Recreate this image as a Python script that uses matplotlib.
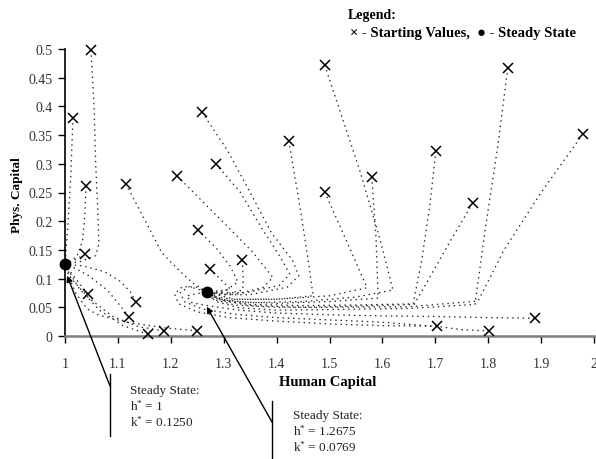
import matplotlib
matplotlib.use("Agg")
import matplotlib.pyplot as plt

plt.rcParams['font.family'] = ['Liberation Serif', 'DejaVu Sans']
plt.rcParams['mathtext.fontset'] = 'custom'
plt.rcParams['mathtext.rm'] = 'Liberation Serif'
plt.rcParams['mathtext.it'] = 'Liberation Serif:italic'
plt.rcParams['mathtext.bf'] = 'Liberation Serif:bold'

# ---------------- data (human capital h, physical capital k) ----------------
steady_h = [1.0, 1.2675]
steady_k = [0.1250, 0.0769]

# trajectories converging to steady state h*=1
traj_a1 = [(1.049, 0.498), (1.055, 0.40), (1.058, 0.30), (1.062, 0.22), (1.064, 0.160), (1.058, 0.140), (1.030, 0.130), (1.0, 0.125)]
traj_a2 = [(1.015, 0.380), (1.011, 0.280), (1.006, 0.200), (1.002, 0.150), (1.0, 0.125)]
traj_a3 = [(1.040, 0.261), (1.037, 0.205), (1.033, 0.165), (1.022, 0.138), (1.0, 0.125)]
traj_a4 = [(1.038, 0.143), (1.020, 0.133), (1.0, 0.125)]
traj_a5 = [(1.043, 0.073), (1.030, 0.088), (1.014, 0.107), (1.0, 0.125)]
traj_a6 = [(1.134, 0.059), (1.125, 0.075), (1.105, 0.095), (1.075, 0.112), (1.035, 0.122), (1.0, 0.125)]
traj_a7 = [(1.121, 0.033), (1.105, 0.052), (1.080, 0.080), (1.045, 0.105), (1.015, 0.120), (1.0, 0.125)]
traj_a8 = [(1.157, 0.003), (1.110, 0.018), (1.065, 0.045), (1.025, 0.085), (1.0, 0.125)]
traj_a9 = [(1.187, 0.009), (1.140, 0.016), (1.090, 0.034), (1.045, 0.066), (1.012, 0.100), (1.0, 0.125)]
traj_a10 = [(1.250, 0.009), (1.190, 0.014), (1.117, 0.024), (1.065, 0.036), (1.042, 0.047), (1.020, 0.075), (1.009, 0.100), (1.0, 0.125)]

# trajectories converging to steady state h*=1.2675
traj_b1 = [(1.115, 0.265), (1.147, 0.209), (1.183, 0.145), (1.217, 0.113), (1.242, 0.092), (1.2675, 0.0769)]
traj_b2 = [(1.212, 0.279), (1.255, 0.239), (1.306, 0.192), (1.355, 0.146), (1.393, 0.102), (1.375, 0.085), (1.320, 0.072), (1.2675, 0.0769)]
traj_b3 = [(1.259, 0.390), (1.308, 0.322), (1.350, 0.250), (1.390, 0.180), (1.430, 0.132), (1.442, 0.105), (1.420, 0.085), (1.35, 0.072), (1.29, 0.072), (1.2675, 0.0769)]
traj_b4 = [(1.285, 0.300), (1.331, 0.251), (1.369, 0.192), (1.406, 0.139), (1.425, 0.108), (1.405, 0.088), (1.340, 0.075), (1.2675, 0.0769)]
traj_b5 = [(1.251, 0.185), (1.287, 0.152), (1.312, 0.122), (1.327, 0.094), (1.305, 0.080), (1.2675, 0.0769)]
traj_b6 = [(1.274, 0.117), (1.298, 0.095), (1.312, 0.082), (1.290, 0.075), (1.2675, 0.0769)]
traj_b7 = [(1.335, 0.132), (1.337, 0.100), (1.336, 0.080), (1.300, 0.072), (1.2675, 0.0769)]
traj_b8 = [(1.423, 0.340), (1.444, 0.226), (1.460, 0.130), (1.469, 0.070), (1.40, 0.064), (1.32, 0.064), (1.285, 0.068), (1.2675, 0.0769)]
traj_b9 = [(1.491, 0.472), (1.558, 0.286), (1.595, 0.170), (1.620, 0.080), (1.55, 0.068), (1.45, 0.060), (1.35, 0.058), (1.29, 0.064), (1.2675, 0.0769)]
traj_b10 = [(1.491, 0.251), (1.530, 0.170), (1.571, 0.084), (1.50, 0.070), (1.40, 0.064), (1.32, 0.064), (1.2675, 0.0769)]
traj_b11 = [(1.580, 0.277), (1.588, 0.170), (1.592, 0.066), (1.50, 0.060), (1.40, 0.057), (1.32, 0.060), (1.28, 0.068), (1.2675, 0.0769)]
traj_b12 = [(1.701, 0.322), (1.690, 0.230), (1.674, 0.130), (1.658, 0.056), (1.55, 0.054), (1.45, 0.053), (1.35, 0.055), (1.30, 0.062), (1.2675, 0.0769)]
traj_b13 = [(1.771, 0.232), (1.725, 0.160), (1.685, 0.095), (1.660, 0.055), (1.55, 0.052), (1.45, 0.050), (1.35, 0.053), (1.295, 0.062), (1.2675, 0.0769)]
traj_b14 = [(1.837, 0.467), (1.818, 0.330), (1.795, 0.190), (1.775, 0.055), (1.65, 0.048), (1.50, 0.046), (1.40, 0.045), (1.33, 0.049), (1.285, 0.060), (1.2675, 0.0769)]
traj_b15 = [(1.979, 0.352), (1.900, 0.250), (1.830, 0.150), (1.781, 0.061), (1.65, 0.051), (1.50, 0.050), (1.40, 0.050), (1.32, 0.054), (1.28, 0.064), (1.2675, 0.0769)]
traj_b16 = [(1.703, 0.017), (1.60, 0.018), (1.50, 0.021), (1.40, 0.026), (1.31, 0.032), (1.25, 0.042), (1.215, 0.056), (1.207, 0.073), (1.222, 0.086), (1.250, 0.085), (1.2675, 0.0769)]
traj_b17 = [(1.802, 0.009), (1.750, 0.011), (1.710, 0.016), (1.60, 0.024), (1.50, 0.028), (1.40, 0.032), (1.32, 0.038), (1.26, 0.047), (1.225, 0.060), (1.218, 0.076), (1.235, 0.086), (1.2675, 0.0769)]
traj_b18 = [(1.888, 0.031), (1.80, 0.032), (1.70, 0.034), (1.60, 0.035), (1.50, 0.037), (1.40, 0.040), (1.33, 0.045), (1.275, 0.052), (1.240, 0.058), (1.230, 0.070), (1.2675, 0.0769)]

trajectories = [traj_a1, traj_a2, traj_a3, traj_a4, traj_a5, traj_a6, traj_a7, traj_a8, traj_a9, traj_a10,
                traj_b1, traj_b2, traj_b3, traj_b4, traj_b5, traj_b6, traj_b7, traj_b8, traj_b9,
                traj_b10, traj_b11, traj_b12, traj_b13, traj_b14, traj_b15, traj_b16, traj_b17, traj_b18]

x_ticks = [1, 1.1, 1.2, 1.3, 1.4, 1.5, 1.6, 1.7, 1.8, 1.9, 2]
x_tick_labels = ["1", "1.1", "1.2", "1.3", "1.4", "1.5", "1.6", "1.7", "1.8", "1.9", "2"]
y_ticks = [0, 0.05, 0.1, 0.15, 0.2, 0.25, 0.3, 0.35, 0.4, 0.45, 0.5]
y_tick_labels = ["0", "0.05", "0.1", "0.15", "0.2", "0.25", "0.3", "0.35", "0.4", "0.45", "0.5"]

# ---------------- figure ----------------
W, H = 596, 460
fig = plt.figure(figsize=(W / 100, H / 100), dpi=100)
ax = fig.add_axes([65 / W, 1 - 337 / H, 529 / W, 287 / H])

for tr in trajectories:
    hs = [p[0] for p in tr]
    ks = [p[1] for p in tr]
    ax.plot(hs, ks, linestyle=(0, (1.1, 2.9)), color='#2a2a2a', lw=0.95, clip_on=False)

start_h = [tr[0][0] for tr in trajectories]
start_k = [tr[0][1] for tr in trajectories]
ax.plot(start_h, start_k, linestyle='none', marker='x', markersize=6.5, mew=1.1, color='black', clip_on=False, zorder=5)
ax.plot(steady_h, steady_k, linestyle='none', marker='o', markersize=7.5, color='black', clip_on=False, zorder=6)

ax.set_xlim(1, 2)
ax.set_ylim(0, 0.5)
ax.set_xticks(x_ticks)
ax.set_xticklabels(x_tick_labels)
ax.set_yticks(y_ticks)
ax.set_yticklabels(y_tick_labels)
for s in ['top', 'right']:
    ax.spines[s].set_visible(False)
ax.spines['left'].set_color('black')
ax.spines['left'].set_linewidth(1.2)
ax.spines['bottom'].set_color('#7f7f7f')
ax.spines['bottom'].set_linewidth(1.8)
ax.tick_params(axis='x', direction='out', length=5, width=1, color='black', pad=10, labelsize=10, labelcolor='#333333')
ax.tick_params(axis='y', direction='out', length=5, width=1, color='black', pad=4, labelsize=10, labelcolor='#333333')

ax.set_xlabel("Human Capital", fontsize=10.5, fontweight='bold')
ax.xaxis.set_label_coords(0.497, -0.16)
ax.xaxis.label.set_va('center')
ax.set_ylabel("Phys. Capital", fontsize=9.5, fontweight='bold')
ax.yaxis.set_label_coords(-0.091, 0.495)
ax.yaxis.label.set_va('center')

# legend text
fig.text(348 / W, 1 - 15 / H, "Legend:", fontsize=10, fontweight='bold', va='center', ha='left')
fig.text(350 / W, 1 - 33 / H, "\u00d7 - Starting Values,  \u25cf - Steady State", fontsize=10.5,
         fontweight='bold', va='center', ha='left')

# callouts
ax.annotate("", xy=(1.004, 0.105), xycoords='data', xytext=(110, H - 387), textcoords='figure pixels',
            arrowprops=dict(arrowstyle='-|>', color='black', lw=1.0, mutation_scale=9, shrinkA=0, shrinkB=0),
            annotation_clip=False)
ax.annotate("", xy=(1.268, 0.051), xycoords='data', xytext=(272, H - 423), textcoords='figure pixels',
            arrowprops=dict(arrowstyle='-|>', color='black', lw=1.0, mutation_scale=9, shrinkA=0, shrinkB=0),
            annotation_clip=False)
fig.add_artist(plt.Line2D([110 / W, 110 / W], [1 - 375 / H, 1 - 437 / H], color='black', lw=1.0))
fig.add_artist(plt.Line2D([272 / W, 272 / W], [1 - 402 / H, 0.0], color='black', lw=1.0))

fig.text(130 / W, 1 - 385 / H, "Steady State:\nh$^{*}$ = 1\nk$^{*}$ = 0.1250", fontsize=9.5,
         va='top', ha='left', linespacing=1.15, color='#222222')
fig.text(293 / W, 1 - 410 / H, "Steady State:\nh$^{*}$ = 1.2675\nk$^{*}$ = 0.0769", fontsize=9.5,
         va='top', ha='left', linespacing=1.15, color='#222222')

fig.savefig("out.png", dpi=100)
